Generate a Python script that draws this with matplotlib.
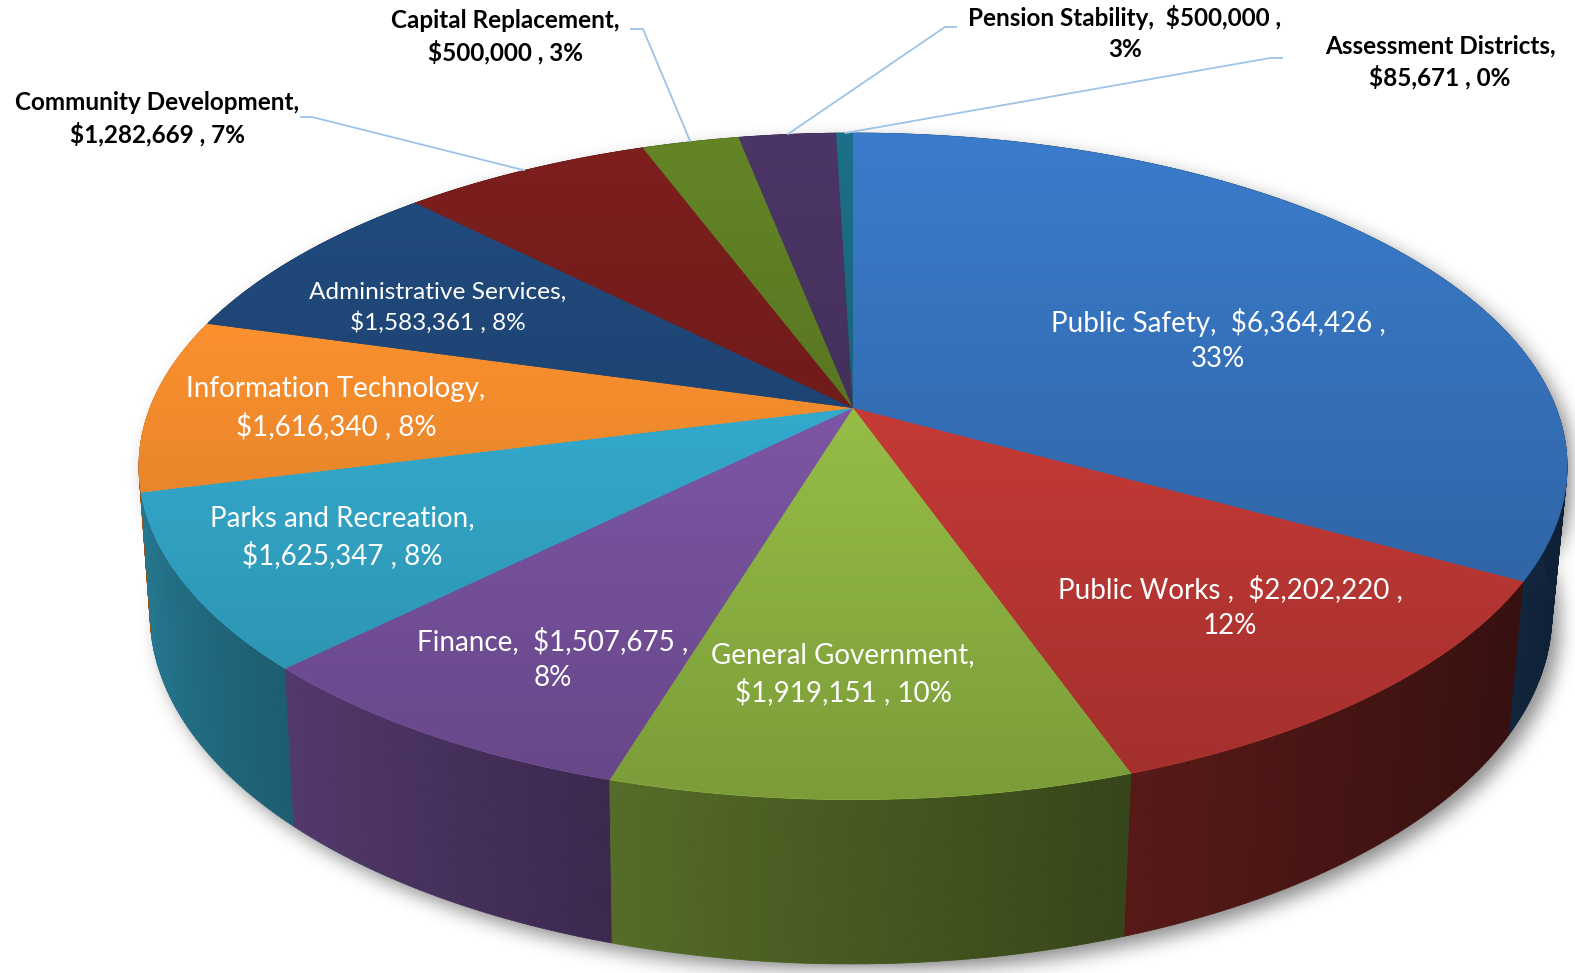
import numpy as np
import matplotlib.pyplot as plt
from matplotlib.patches import Polygon
from matplotlib.collections import PolyCollection
from matplotlib.path import Path

# budget by department, clockwise from 12 o'clock
categories = ['Public Safety', 'Public Works ', 'General Government', 'Finance',
              'Parks and Recreation', 'Information Technology', 'Administrative Services',
              'Community Development', 'Capital Replacement', 'Pension Stability',
              'Assessment Districts']
values = [6364426, 2202220, 1919151, 1507675, 1625347, 1616340, 1583361,
          1282669, 500000, 500000, 85671]
colors = ['#346FB6', '#C53A36', '#96BE46', '#7D56A5', '#34AACD', '#F38C2D',
          '#1E4473', '#701C1B', '#597722', '#44305C', '#19647A']

# label layout: centre of the text block (pixels), one or two-line break
label_pos = [(1218, 340), (1230, 607), (843, 674), (553, 659), (342, 537), (336, 408),
             (438, 308), (157, 119), (505, 37), (1125, 33), (1440, 62)]
label_inside = [True] * 7 + [False] * 4
break_after_value = [True, True, False, True, False, False, False, False, False, True, False]
leader_start = [None] * 7 + [(300, 117), (630, 29), (957, 27), (1283, 58)]
leader_knee = [None] * 7 + [(312, 117), (643, 29), (945, 27), (1270, 58)]

W, H = 1575, 973

# top face and bottom rim of the tilted disc (perspective ellipses)
TOP = dict(cx=853, cy=408, sx=703, sy=323, k=0.175)
BOT = dict(cx=851, cy=553, sx=690, sy=339, k=0.175)


def project(theta, cx, cy, sx, sy, k):
    u, v = np.sin(theta), np.cos(theta)
    d = 1 + k * v
    return cx + sx * u / d, cy - sy * v / d


def rgb(h):
    h = h.lstrip('#')
    return np.array([int(h[i:i + 2], 16) for i in (0, 2, 4)]) / 255.0


def pct_labels(vals):
    # largest remainder rounding so the labels add up to 100
    raw = 100 * np.array(vals) / np.sum(vals)
    out = np.floor(raw).astype(int)
    rest = 100 - out.sum()
    order = np.argsort(-(raw - out))
    out[order[:rest]] += 1
    return out


total = float(sum(values))
fracs = np.array(values) / total
edges = np.concatenate([[0], np.cumsum(fracs)]) * 2 * np.pi
pcts = pct_labels(values)

fig = plt.figure(figsize=(W / 100, H / 100), dpi=100)
ax = fig.add_axes([0, 0, 1, 1])
ax.axis('off')

# soft drop shadow under the disc
gx, gy = np.meshgrid(np.arange(0, W, 2), np.arange(0, H, 2))
th = np.linspace(0, 2 * np.pi, 400)
bx, by = project(th, **BOT)
tx, ty = project(th, **TOP)
shadow_path = Path(np.column_stack([np.concatenate([bx, tx]) + 8, np.concatenate([by, ty]) + 8]))
mask = shadow_path.contains_points(np.column_stack([gx.ravel(), gy.ravel()])).reshape(gx.shape).astype(float)
kern = np.ones(9) / 9
for _ in range(3):
    mask = np.apply_along_axis(lambda r: np.convolve(r, kern, mode='same'), 1, mask)
    mask = np.apply_along_axis(lambda c: np.convolve(c, kern, mode='same'), 0, mask)
shade = np.zeros(mask.shape + (4,))
shade[..., :3] = 0.3
shade[..., 3] = mask * 0.65
ax.imshow(shade, extent=(0, W, H, 0), origin='upper', interpolation='bilinear', zorder=0)

# side wall, built from thin quads so it can be shaded by angle
quads, qcols, qdepth = [], [], []
for i in range(len(values)):
    t = np.linspace(edges[i], edges[i + 1], max(3, int(values[i] / total * 720)))
    base = rgb(colors[i])
    for a, b in zip(t[:-1], t[1:]):
        x1, y1 = project(a, **TOP)
        x2, y2 = project(b, **TOP)
        x3, y3 = project(b, **BOT)
        x4, y4 = project(a, **BOT)
        quads.append([(x1, y1), (x2, y2), (x3, y3), (x4, y4)])
        m = 0.5 * (a + b)
        # darker toward the right, plus a slight darkening across each wedge
        local = (m - edges[i]) / (edges[i + 1] - edges[i])
        f = (0.48 - 0.2 * np.sin(m)) * (1.06 - 0.18 * (1 - local))
        qcols.append(np.clip(base * f, 0, 1))
        qdepth.append(np.cos(m))
order = np.argsort(qdepth)[::-1]
side = PolyCollection([quads[j] for j in order], facecolors=[qcols[j] for j in order],
                      edgecolors=[qcols[j] for j in order], linewidths=0.6, zorder=1)
ax.add_collection(side)

# top face: each wedge gets a vertical light-to-dark gradient
apex = (TOP['cx'], TOP['cy'])
for i in range(len(values)):
    t = np.linspace(edges[i], edges[i + 1], max(4, int(values[i] / total * 1000)))
    ax_, ay_ = project(t, **TOP)
    pts = np.vstack([[apex], np.column_stack([ax_, ay_])])
    base = rgb(colors[i])
    poly = Polygon(pts, closed=True, facecolor=base, edgecolor=base, lw=0.6, zorder=2)
    ax.add_patch(poly)
    x0, x1 = pts[:, 0].min(), pts[:, 0].max()
    y0, y1 = pts[:, 1].min(), pts[:, 1].max()
    ys = np.linspace(y0, y1, 256)
    f = 1.12 - 0.30 * (ys - 133) / 667
    img = np.clip(base[None, :] * f[:, None], 0, 1).reshape(256, 1, 3)
    im = ax.imshow(img, extent=(x0, x1, y1, y0), origin='upper', aspect='auto',
                   interpolation='bilinear', zorder=3)
    im.set_clip_path(poly)

# data labels
for i, name in enumerate(categories):
    val = '${:,}'.format(values[i])
    if break_after_value[i]:
        txt = '{},  {} ,\n{}%'.format(name, val, pcts[i])
    else:
        txt = '{},\n{} , {}%'.format(name, val, pcts[i])
    x, y = label_pos[i]
    if label_inside[i]:
        if name.startswith('Admin'):
            size, spacing = 17.6, 1.42
        else:
            size, spacing = 20, 1.45
        ax.text(x, y, txt, ha='center', va='center', color='white', fontsize=size,
                family='Lato', linespacing=spacing, zorder=5)
    else:
        ax.text(x, y, txt, ha='center', va='center', color='black', fontsize=17.5,
                family='Lato', weight='bold', linespacing=1.4, zorder=5)
        m = 0.5 * (edges[i] + edges[i + 1])
        ex, ey = project(m, **TOP)
        sx, sy = leader_start[i]
        kx, ky = leader_knee[i]
        ax.plot([sx, kx, ex], [sy, ky, ey], color='#9DC3E6', lw=1.3, zorder=4,
                solid_capstyle='butt')

ax.set_xlim(0, W)
ax.set_ylim(H, 0)
fig.savefig('out.png', dpi=100, facecolor='white')
